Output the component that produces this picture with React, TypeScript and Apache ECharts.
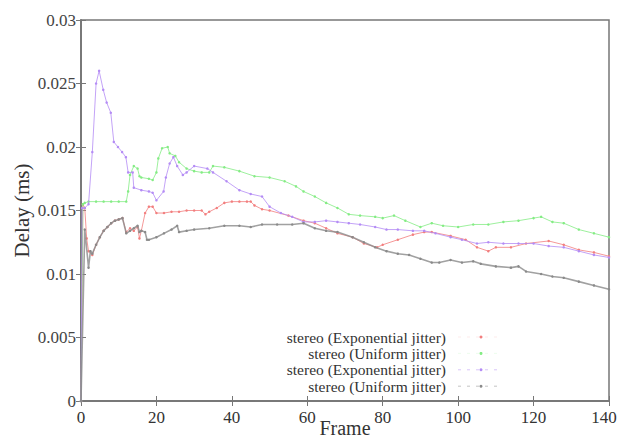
import React, { useEffect, useRef } from "react";
import * as echarts from "echarts";

const xTicks = [0, 20, 40, 60, 80, 100, 120, 140];
const yTicks = [0, 0.005, 0.01, 0.015, 0.02, 0.025, 0.03];

const legendNames = [
  "stereo (Exponential jitter)",
  "stereo (Uniform jitter)",
  "stereo (Exponential jitter)",
  "stereo (Uniform jitter)",
];

const redSeries = [
  [0, 0], [0.5, 0.0155], [1, 0.0152], [1.5, 0.0128], [2, 0.0118], [3, 0.0115], [4, 0.0123],
  [5, 0.0129], [6, 0.0134], [7, 0.0137], [8, 0.014], [9, 0.0142], [10, 0.0143], [11, 0.0144],
  [12, 0.0133], [13, 0.0136], [14, 0.0134], [15, 0.0137], [15.5, 0.0128], [16, 0.0134],
  [17, 0.0148], [18, 0.0153], [19, 0.0153], [20, 0.0148], [22, 0.0148], [24, 0.0149],
  [26, 0.0149], [28, 0.015], [30, 0.015], [32, 0.015], [33, 0.0147], [34, 0.0149],
  [36, 0.0152], [38, 0.0156], [40, 0.0157], [42, 0.0157], [44, 0.0157], [45, 0.0157],
  [46, 0.0154], [48, 0.0151], [50, 0.015], [55, 0.0146], [59, 0.0142], [62, 0.014],
  [65, 0.0136], [68, 0.0132], [72, 0.0129], [75, 0.0124], [78.5, 0.0121], [80, 0.0123],
  [84, 0.0127], [88, 0.0131], [91, 0.0133], [93, 0.0133], [98, 0.013], [102, 0.0127],
  [105, 0.0121], [108, 0.0118], [110, 0.0121], [114, 0.0121], [118, 0.0124], [124, 0.0126],
  [128, 0.0123], [132, 0.0119], [136, 0.0117], [140, 0.0114],
];

const greenSeries = [
  [0, 0], [0.5, 0.0155], [1, 0.0156], [2, 0.0157], [4, 0.0157], [6, 0.0157], [8, 0.0157],
  [10, 0.0157], [12, 0.0157], [12.5, 0.0165], [13, 0.0178], [14, 0.0185], [15, 0.0183],
  [15.5, 0.0177], [16, 0.0176], [18, 0.0175], [19, 0.0174], [20, 0.018], [20.5, 0.0191],
  [21.5, 0.0199], [23, 0.02], [23.5, 0.0195], [25, 0.0193], [26, 0.0188], [28, 0.0183],
  [30, 0.0181], [32, 0.018], [34, 0.018], [35, 0.0185], [38, 0.0184], [42, 0.0181],
  [46, 0.0177], [50, 0.0176], [54, 0.0173], [57, 0.0169], [59, 0.0165], [62, 0.0161],
  [65, 0.0156], [68, 0.0152], [71, 0.0147], [74, 0.0146], [78, 0.0145], [80, 0.0144],
  [83, 0.0146], [86, 0.0142], [90, 0.0137], [93, 0.014], [96, 0.0138], [100, 0.0137],
  [104, 0.0139], [108, 0.0139], [112, 0.0141], [116, 0.0142], [120, 0.0144], [122, 0.0145],
  [125, 0.0141], [128, 0.014], [132, 0.0135], [136, 0.0132], [140, 0.0129],
];

const purpleSeries = [
  [0, 0], [0.3, 0.0152], [1, 0.0152], [2, 0.0155], [3, 0.0196], [4, 0.025], [4.8, 0.026],
  [5.9, 0.0245], [6.8, 0.0235], [7.9, 0.0227], [8.7, 0.0204], [9.8, 0.02], [10.9, 0.0196],
  [11.9, 0.0192], [12.5, 0.018], [13.7, 0.018], [14, 0.0168], [16, 0.0166], [18, 0.0165],
  [19, 0.0164], [20, 0.0158], [21.9, 0.0165], [22.5, 0.0176], [23.5, 0.0187], [24.5, 0.0192],
  [25.5, 0.0185], [27, 0.0178], [28, 0.018], [30, 0.0185], [33.5, 0.0183], [35, 0.018],
  [38.6, 0.0173], [42, 0.0166], [45, 0.0163], [48, 0.0161], [50, 0.0153], [53, 0.0148],
  [56, 0.0145], [59, 0.0141], [62, 0.0141], [65, 0.0142], [68, 0.0141], [71, 0.014],
  [74, 0.0139], [78, 0.0137], [81, 0.0135], [84, 0.0135], [88, 0.0134], [91, 0.0134],
  [94, 0.0132], [98, 0.0129], [101, 0.0127], [105, 0.0124], [108, 0.0125], [112, 0.0124],
  [116, 0.0124], [120, 0.0124], [124, 0.0122], [128, 0.0121], [132, 0.0118], [136, 0.0115],
  [140, 0.0113],
];

const graySeries = [
  [0, 0], [1, 0.0135], [2, 0.0105], [2.5, 0.0118], [3, 0.0116], [4, 0.0123], [5, 0.0129],
  [6, 0.0134], [7, 0.0137], [8, 0.014], [9, 0.0142], [10, 0.0143], [11, 0.0144],
  [12, 0.0132], [13, 0.0134], [14, 0.0136], [15, 0.0138], [15.5, 0.0133], [16, 0.0134],
  [17, 0.0133], [17.5, 0.0127], [18, 0.0127], [20, 0.0129], [22, 0.0132], [24, 0.0135],
  [25.5, 0.0138], [26, 0.0133], [28, 0.0134], [30, 0.0135], [34, 0.0136], [38, 0.0138],
  [42, 0.0138], [45, 0.0137], [48, 0.0139], [52, 0.0139], [56, 0.0139], [59, 0.014],
  [62, 0.0136], [65, 0.0134], [68, 0.0133], [72, 0.0129], [75, 0.0125], [78, 0.0121],
  [81, 0.0118], [84, 0.0116], [87, 0.0115], [90, 0.0112], [93, 0.0109], [95, 0.0109],
  [98, 0.0111], [101, 0.0109], [104, 0.011], [106, 0.0108], [110, 0.0106], [114, 0.0105],
  [116, 0.0106], [118, 0.0102], [122, 0.01], [125, 0.0098], [128, 0.0097], [132, 0.0094],
  [136, 0.0091], [140, 0.0088],
];

const seriesColors = ["#f27e7e", "#84ec84", "#b48cf5", "#8a8a8a"];
const seriesData = [redSeries, greenSeries, purpleSeries, graySeries];

const FONT = "Liberation Serif";

export default function App() {
  const ref = useRef<HTMLDivElement>(null);

  useEffect(() => {
    if (!ref.current) return;
    const chart = echarts.init(ref.current, undefined, { renderer: "svg" });

    const axisLine = { show: true, lineStyle: { color: "#777", width: 1.5 } };
    const axisTick = { show: true, inside: true, length: 5, lineStyle: { color: "#777" } };

    const legendGraphics: any[] = [];
    legendNames.forEach((name, i) => {
      const y = 337 + i * 16.4;
      legendGraphics.push({
        type: "text",
        x: 446,
        y: y,
        style: {
          text: name,
          fontFamily: FONT,
          fontSize: 15.5,
          lineHeight: 15,
          fill: "#333",
          align: "right",
          verticalAlign: "middle",
        },
      });
      legendGraphics.push({
        type: "line",
        shape: { x1: 458, y1: y, x2: 502, y2: y },
        style: { stroke: seriesColors[i], lineWidth: 1, lineDash: [3, 6], opacity: i >= 2 ? 0.5 : 0.15 },
      });
      legendGraphics.push({
        type: "circle",
        shape: { cx: 481, cy: y, r: 1.5 },
        style: { fill: seriesColors[i] },
      });
    });

    chart.setOption({
      animation: false,
      backgroundColor: "#fff",
      grid: {
        left: 81,
        right: 9,
        top: 20,
        bottom: 40,
        containLabel: false,
        outerBoundsMode: "none",
        show: true,
        borderColor: "#777",
        borderWidth: 1.5,
      },
      xAxis: [
        {
          type: "value",
          min: 0,
          max: 140,
          interval: 20,
          name: "Frame",
          nameLocation: "middle",
          nameGap: 17,
          nameMoveOverlap: false,
          nameTextStyle: { fontFamily: FONT, fontSize: 20, lineHeight: 20, color: "#333" },
          axisLine,
          axisTick,
          splitLine: { show: false },
          axisLabel: {
            fontFamily: FONT,
            fontSize: 17,
            color: "#333",
            margin: 8,
            formatter: (v: number) =>
              v === 140 ? "{r|140}" : xTicks.includes(v) ? String(v) : "",
            rich: {
              r: { fontFamily: FONT, fontSize: 17, color: "#333", padding: [0, 10, 0, 0] },
            },
          },
        },
        {
          type: "value",
          position: "top",
          min: 0,
          max: 140,
          interval: 20,
          axisLine,
          axisTick,
          splitLine: { show: false },
          axisLabel: { show: false },
        },
      ],
      yAxis: [
        {
          type: "value",
          min: 0,
          max: 0.03,
          interval: 0.005,
          name: "Delay (ms)",
          nameLocation: "middle",
          nameGap: 49,
          nameMoveOverlap: false,
          nameTextStyle: { fontFamily: FONT, fontSize: 21, color: "#333" },
          axisLine,
          axisTick,
          splitLine: { show: false },
          axisLabel: {
            fontFamily: FONT,
            fontSize: 17,
            color: "#444",
            margin: 5,
            formatter: (v: number) => {
              const t = yTicks.find((k) => Math.abs(k - v) < 1e-9);
              return t === undefined ? "" : String(t);
            },
          },
        },
        {
          type: "value",
          position: "right",
          min: 0,
          max: 0.03,
          interval: 0.005,
          axisLine,
          axisTick,
          splitLine: { show: false },
          axisLabel: { show: false },
        },
      ],
      series: seriesData.map((d, i) => ({
        type: "line",
        name: legendNames[i],
        data: d,
        xAxisIndex: 0,
        yAxisIndex: 0,
        showSymbol: true,
        symbol: "circle",
        symbolSize: 2.5,
        itemStyle: { color: seriesColors[i] },
        lineStyle: { color: seriesColors[i], width: i === 3 ? 1.6 : 1, opacity: 0.8 },
        z: 2 + i,
      })),
      graphic: legendGraphics,
    });

    return () => chart.dispose();
  }, []);

  return (
    <div
      ref={ref}
      style={{ position: "fixed", left: 0, top: 0, width: 618, height: 441 }}
    />
  );
}
